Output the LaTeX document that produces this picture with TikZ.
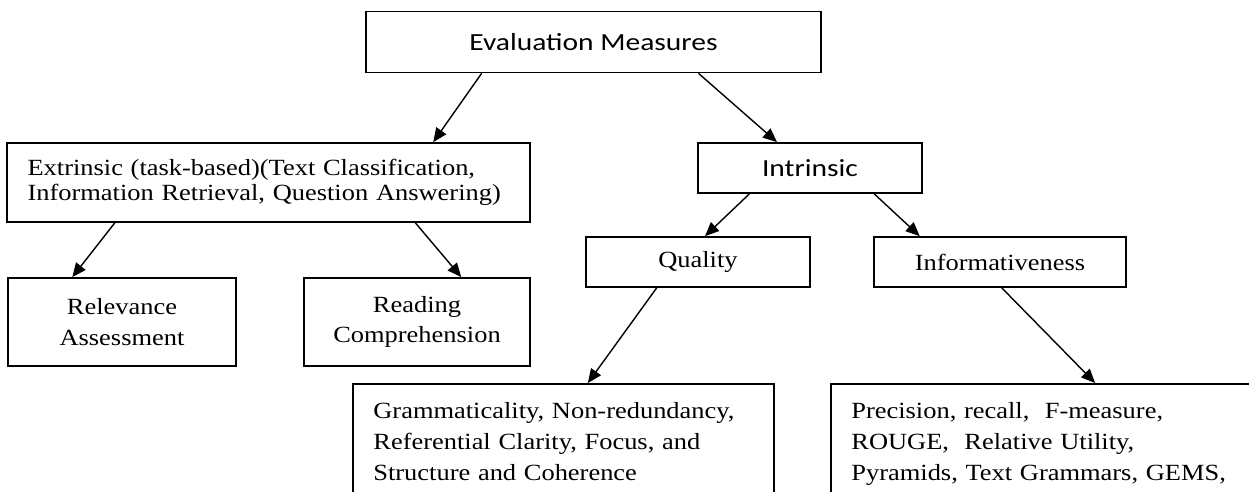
\documentclass[tikz,border=0pt]{standalone}
\usepackage{fontspec}
\setmainfont{Liberation Serif}[FakeStretch=1.14]
\newfontfamily\calibrifont{Carlito}[FakeStretch=1.2]
\usetikzlibrary{arrows.meta,calc}
\hyphenpenalty=10000

\begin{document}
\begin{tikzpicture}[x=0.02cm, y=-0.02cm,
  box/.style={rectangle, draw, line width=1pt, inner sep=0pt, align=center, font=\fontsize{13.2pt}{17.5pt}\selectfont},
  sansbox/.style={box, font=\calibrifont\fontsize{14pt}{16pt}\selectfont},
  listbox/.style={box, anchor=north west, align=left, inner xsep=0.41cm, inner ysep=0.39cm, text height=0.3cm, text depth=3cm, font=\fontsize{13.2pt}{17.6pt}\selectfont},
  arrow/.style={-{Triangle[length=2.8mm, width=2.4mm]}, line width=0.8pt},
]
\useasboundingbox (0,0) rectangle (1249,491);
\clip (0,0) rectangle (1249,491);

% === TOP LEVEL ===
\node[sansbox, minimum width=9.1cm, minimum height=1.22cm] (em) at (593.5,42) {Evaluation Measures};

% === SECOND LEVEL ===
\node[box, align=left, text width=9.64cm, inner xsep=0.41cm, minimum height=1.58cm,
  font=\fontsize{13.2pt}{14.6pt}\selectfont] (ext) at (268.5,182.5)
  {Extrinsic (task-based)(Text Classification,\\Information Retrieval, Question Answering)};
\node[sansbox, minimum width=4.49cm, minimum height=1cm] (intr) at (810,168) {Intrinsic};

% === THIRD LEVEL ===
\node[box, minimum width=4.57cm, minimum height=1.76cm] (rel) at (122,322) {Relevance\\Assessment};
\node[box, minimum width=4.53cm, minimum height=1.76cm] (read) at (417,322) {Reading\\Comprehension};
\node[box, minimum width=4.48cm, minimum height=1cm] (qual) at (698,262) {Quality};
\node[box, minimum width=5.03cm, minimum height=1cm] (info) at (1000,262) {Informativeness};

% === MEASURE LISTS ===
\node[listbox, text width=7.6cm] (gram) at (352,383)
  {Grammaticality, Non-redundancy,\\Referential Clarity, Focus, and\\Structure and Coherence};
\node[listbox, text width=8.5cm] (prec) at (830,383)
  {Precision, recall,~ F-measure,\\ROUGE,~ Relative Utility,\\Pyramids, Text Grammars, GEMS,};

% === CONNECTORS ===
\draw[arrow] ($(em.south west)!0.255!(em.south east)$) -- ($(ext.north west)!0.814!(ext.north east)$);
\draw[arrow] ($(em.south west)!0.73!(em.south east)$) -- ($(intr.north west)!0.354!(intr.north east)$);
\draw[arrow] ($(ext.south west)!0.207!(ext.south east)$) -- ($(rel.north west)!0.284!(rel.north east)$);
\draw[arrow] ($(ext.south west)!0.78!(ext.south east)$) -- ($(read.north west)!0.694!(read.north east)$);
\draw[arrow] ($(intr.south west)!0.232!(intr.south east)$) -- ($(qual.north west)!0.531!(qual.north east)$);
\draw[arrow] ($(intr.south west)!0.784!(intr.south east)$) -- ($(info.north west)!0.183!(info.north east)$);
\draw[arrow] ($(qual.south west)!0.317!(qual.south east)$) -- ($(gram.north west)!0.558!(gram.north east)$);
\draw[arrow] ($(info.south west)!0.507!(info.south east)$) -- ($(prec.north west)!0.567!(prec.north east)$);
\end{tikzpicture}
\end{document}
